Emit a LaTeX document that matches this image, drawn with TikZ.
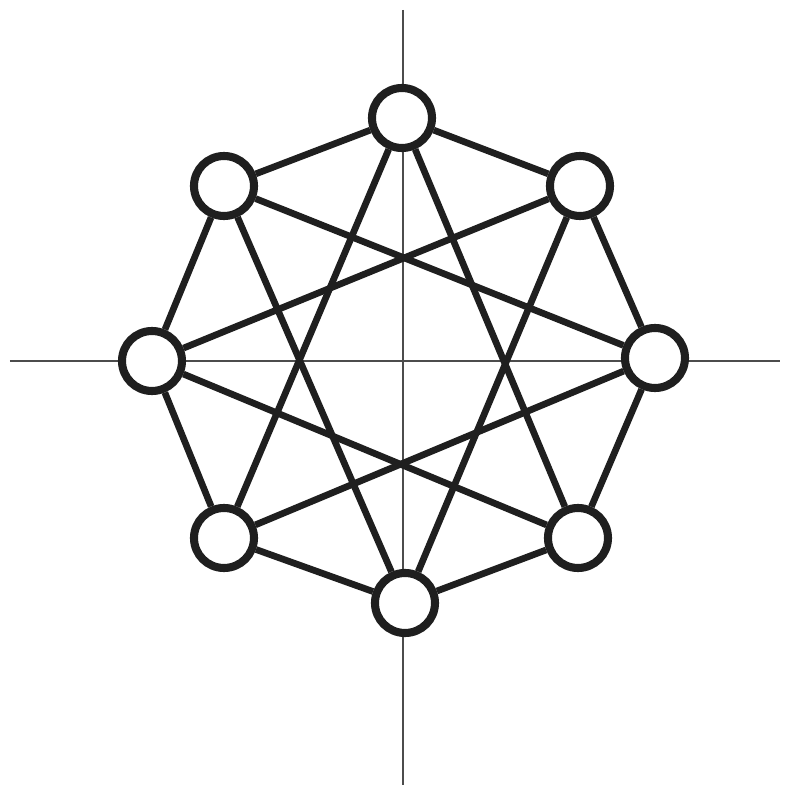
\documentclass[tikz,border=0pt]{standalone}
\begin{document}
\begin{tikzpicture}
	\tikzset{
		peer/.style={shape=circle, draw=black!88, fill=white, line width=4.6pt, minimum size=1.2cm, inner sep=0pt},
		link/.style={draw=black!88, line width=3.8pt},
		axis/.style={draw=black!70, line width=0.75pt}
	}
	\useasboundingbox (-8.06, -8.48) rectangle (8.12, 7.22);
	% Axes:
	\coordinate (xl) at (-7.86, 0); \coordinate (xr) at (7.54, 0);
	\coordinate (yt) at (0, 7.02); \coordinate (yb) at (0, -8.48);
	\draw[axis] (xl) -- (xr);
	\draw[axis] (yt) -- (yb);
	% Nodes:
	\node[peer] (p1) at (-0.02, 4.86){};
	\node[peer] (p2) at (3.54, 3.50){};
	\node[peer] (p3) at (5.04, 0.06){};
	\node[peer] (p4) at (3.50, -3.54){};
	\node[peer] (p5) at (0.04, -4.84){};
	\node[peer] (p6) at (-3.58, -3.54){};
	\node[peer] (p7) at (-5.02, 0){};
	\node[peer] (p8) at (-3.58, 3.50){};
	% Ring and star links:
	\foreach \a/\b in {1/2, 2/3, 3/4, 4/5, 5/6, 6/7, 7/8, 8/1}
		\draw[link] (p\a) -- (p\b);
	\foreach \a/\b in {1/4, 2/5, 3/6, 4/7, 5/8, 6/1, 7/2, 8/3}
		\draw[link] (p\a) -- (p\b);
\end{tikzpicture}
\end{document}
